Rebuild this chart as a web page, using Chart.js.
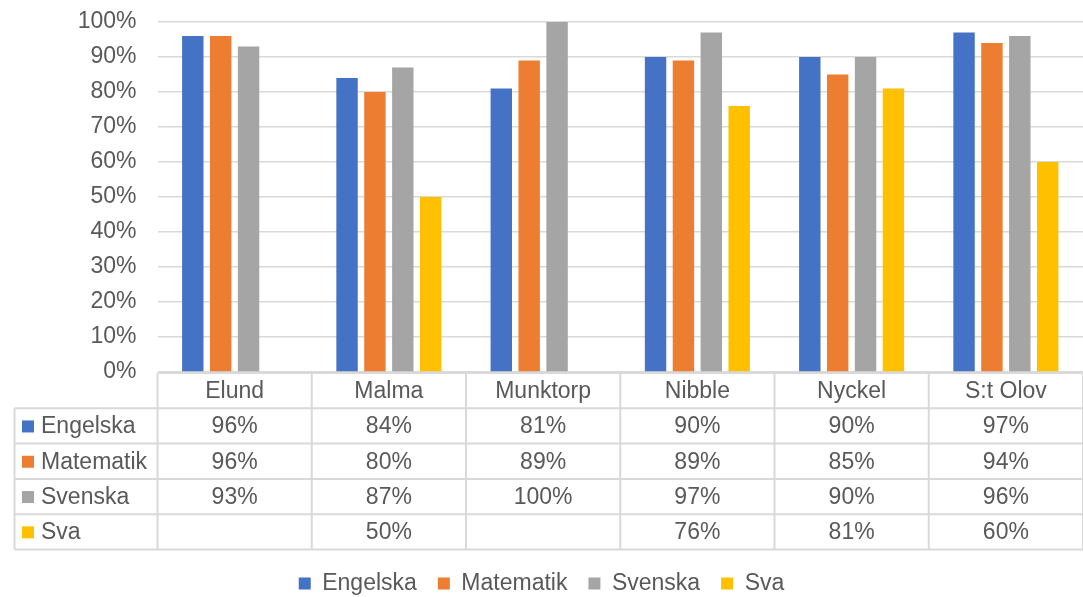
<!DOCTYPE html>
<html>
<head>
<meta charset="utf-8">
<script src="https://cdn.jsdelivr.net/npm/chart.js@4/dist/chart.umd.min.js"></script>
<style>
  html, body { margin: 0; padding: 0; background: #fff; }
  #wrap { width: 1083px; height: 597px; }
</style>
</head>
<body>
<div id="wrap"><canvas id="skolChart"></canvas></div>
<script>
const categories = ["Elund", "Malma", "Munktorp", "Nibble", "Nyckel", "S:t Olov"];
const seriesNames = ["Engelska", "Matematik", "Svenska", "Sva"];
const engelska = [96, 84, 81, 90, 90, 97];
const matematik = [96, 80, 89, 89, 85, 94];
const svenska = [93, 87, 100, 97, 90, 96];
const sva = [null, 50, null, 76, 81, 60];
const yTicks = [0, 10, 20, 30, 40, 50, 60, 70, 80, 90, 100];

const colors = ["#4472c4", "#ed7d31", "#a5a5a5", "#ffc000"];
const textColor = "#595959";
const lineColor = "#d9d9d9";
const fontFamily = "'Liberation Sans', Arial, sans-serif";
const fontSize = 23;

const allSeries = [engelska, matematik, svenska, sva];

// draws the data table under the plot, lined up with the x scale
const dataTable = {
  id: "dataTable",
  afterDraw(chart) {
    const { ctx, chartArea } = chart;
    const xScale = chart.scales.x;
    const rowH = 35.3;
    const top = chartArea.bottom + 1;
    const tableLeft = 14.5;
    const step = (chartArea.right - chartArea.left) / categories.length;
    const bottom = top + rowH * (allSeries.length + 1);

    ctx.save();
    ctx.strokeStyle = lineColor;
    ctx.lineWidth = 2;
    ctx.beginPath();
    ctx.moveTo(chartArea.left, top);
    ctx.lineTo(chartArea.right, top);
    for (let r = 1; r <= allSeries.length + 1; r++) {
      ctx.moveTo(tableLeft, top + r * rowH);
      ctx.lineTo(chartArea.right, top + r * rowH);
    }
    ctx.moveTo(tableLeft, top + rowH);
    ctx.lineTo(tableLeft, bottom);
    for (let i = 0; i <= categories.length; i++) {
      const bx = chartArea.left + i * step;
      ctx.moveTo(bx, top);
      ctx.lineTo(bx, bottom);
    }
    ctx.stroke();

    ctx.font = fontSize + "px " + fontFamily;
    ctx.fillStyle = textColor;
    ctx.textBaseline = "middle";
    ctx.textAlign = "center";
    categories.forEach((c, i) => {
      ctx.fillText(c, xScale.getPixelForValue(i), top + rowH / 2 + 1);
    });

    allSeries.forEach((values, r) => {
      const cy = top + (r + 1) * rowH + rowH / 2 + 1;
      ctx.fillStyle = colors[r];
      ctx.fillRect(22, cy - 6.5, 12, 12);
      ctx.fillStyle = textColor;
      ctx.textAlign = "left";
      ctx.fillText(seriesNames[r], 41, cy);
      ctx.textAlign = "center";
      values.forEach((v, i) => {
        if (v === null) return;
        ctx.fillText(v + "%", xScale.getPixelForValue(i), cy);
      });
    });
    ctx.restore();
  },
};

const ctx = document.getElementById("skolChart").getContext("2d");

new Chart(ctx, {
  type: "bar",
  data: {
    labels: categories,
    datasets: allSeries.map((values, i) => ({
      label: seriesNames[i],
      data: values,
      backgroundColor: colors[i],
      categoryPercentage: 0.723,
      barPercentage: 0.768,
    })),
  },
  options: {
    responsive: true,
    maintainAspectRatio: false,
    animation: false,
    layout: {
      padding: { top: 22, left: 0, right: 0, bottom: -8 },
    },
    plugins: {
      legend: {
        position: "bottom",
        labels: {
          boxWidth: 12,
          boxHeight: 12,
          padding: 21,
          color: textColor,
          font: { family: fontFamily, size: fontSize },
        },
      },
      tooltip: { enabled: false },
    },
    scales: {
      x: {
        grid: { display: false },
        border: { display: false },
        ticks: { display: false },
        afterFit: (scale) => {
          scale.height = 179;
        },
      },
      y: {
        min: 0,
        max: 100,
        afterBuildTicks: (scale) => {
          scale.ticks = yTicks.map((v) => ({ value: v }));
        },
        afterFit: (scale) => {
          scale.width = 157.5;
        },
        grid: {
          color: lineColor,
          lineWidth: 1.5,
          drawTicks: true,
          tickLength: 21,
          tickColor: "rgba(0,0,0,0)",
        },
        border: { display: false },
        ticks: {
          padding: 0,
          color: textColor,
          font: { family: fontFamily, size: fontSize },
          callback: (v) => v + "%",
        },
      },
    },
  },
  plugins: [dataTable],
});
</script>
</body>
</html>
